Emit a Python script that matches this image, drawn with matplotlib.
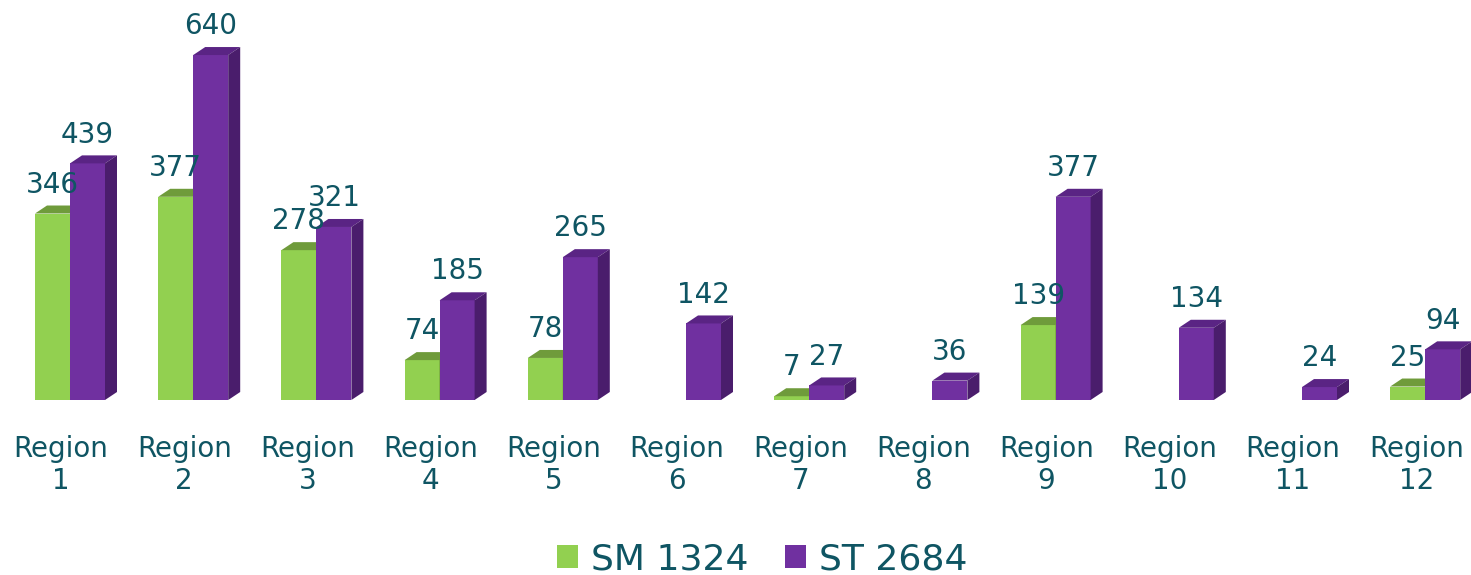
import matplotlib
matplotlib.use("Agg")
import matplotlib.pyplot as plt
from matplotlib.patches import Polygon, Patch

regions = [f"Region\n{i}" for i in range(1, 13)]
sm_vals = [346, 377, 278, 74, 78, 0, 7, 0, 139, 0, 0, 25]
st_vals = [439, 640, 321, 185, 265, 142, 27, 36, 377, 134, 24, 94]
series_names = ["SM 1324", "ST 2684"]

W, H, DPI = 1471, 575, 100
fig = plt.figure(figsize=(W / DPI, H / DPI), dpi=DPI)

# layout (pixel based)
base_px = 400          # baseline y from top
px_per_val = 0.539
cat_px = 123.2
first_center_px = 70
ymax = 700
ax_h_px = ymax * px_per_val
ax = fig.add_axes([0, (H - base_px) / H, 1, ax_h_px / H])
x0 = -first_center_px / cat_px
x1 = (W - first_center_px) / cat_px
ax.set_xlim(x0, x1)
ax.set_ylim(0, ymax)
ax.axis("off")

bw = 35 / cat_px           # bar width in data units
ddx = 12 / cat_px          # depth x
ddy = 8 / px_per_val       # depth y (value units)

TXT = "#0F5563"
cols = {
    0: ("#92D050", "#6F9B3B", "#5E8530"),
    1: ("#7030A0", "#5A2484", "#4A1D6C"),
}

def bar3d(x_left, v, k):
    front, top, side = cols[k]
    xl, xr = x_left, x_left + bw
    ax.add_patch(Polygon([(xl, 0), (xr, 0), (xr, v), (xl, v)], closed=True,
                         facecolor=front, edgecolor="none", zorder=2))
    ax.add_patch(Polygon([(xl, v), (xr, v), (xr + ddx, v + ddy), (xl + ddx, v + ddy)],
                         closed=True, facecolor=top, edgecolor="none", zorder=2))
    ax.add_patch(Polygon([(xr, 0), (xr + ddx, ddy), (xr + ddx, v + ddy), (xr, v)],
                         closed=True, facecolor=side, edgecolor="none", zorder=2))

FS = 20
for i in range(len(regions)):
    for k, vals in enumerate([sm_vals, st_vals]):
        v = vals[i]
        xl = i - bw + k * bw
        if v > 0:
            bar3d(xl, v, k)
            ax.annotate(str(v), (xl + bw / 2, v), xytext=(0, 15),
                        textcoords="offset points", ha="center", va="baseline",
                        fontsize=FS, color=TXT, zorder=5)
    ax.text(i - 9 / cat_px, -35 / px_per_val, regions[i], ha="center", va="top",
            fontsize=FS, color=TXT, linespacing=1.2)

handles = [Patch(facecolor=cols[0][0]), Patch(facecolor=cols[1][0])]
fig.legend(handles, series_names, loc="center", bbox_to_anchor=(762 / W, 1 - 559 / H),
           ncol=2, frameon=False, fontsize=26, labelcolor=TXT,
           handlelength=0.6, handleheight=0.6, handletextpad=0.35, columnspacing=1.0)

fig.savefig("out.png", dpi=DPI)
